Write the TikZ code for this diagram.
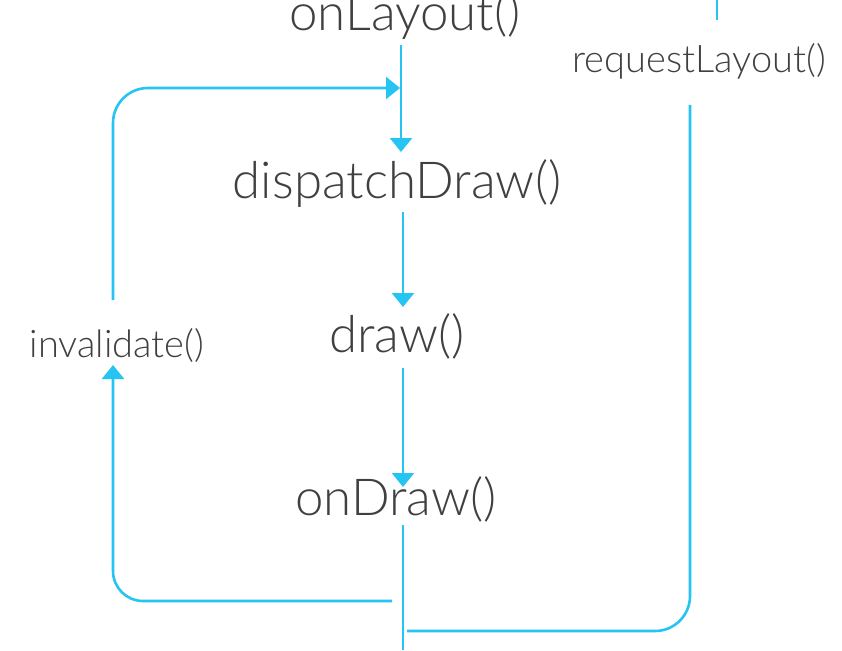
\documentclass[tikz,border=0pt]{standalone}
\usepackage{fontspec}
\setmainfont{Lato}[UprightFont=* Light]
\usetikzlibrary{arrows.meta}
\definecolor{lineblue}{RGB}{38,196,242}
\definecolor{txtgray}{RGB}{64,64,64}
\begin{document}
\begin{tikzpicture}[x=1pt,y=-1pt,
  conn/.style={draw=lineblue,line width=2.6pt},
  arr/.style={conn,-{Triangle[width=22pt,length=14pt]}},
  big/.style={font=\fontsize{51}{51}\selectfont,text=txtgray,inner sep=0pt,anchor=base},
  small/.style={font=\fontsize{38}{38}\selectfont,text=txtgray,inner sep=0pt,anchor=base}]
\useasboundingbox (0,0) rectangle (842,650);
\node[big] (onlayout) at (405,31) {onLayout()};
\node[small] (reqlayout) at (699,73) {requestLayout()};
\node[big] (dispatch) at (397,198) {dispatchDraw()};
\node[big] (drawn) at (397,352) {draw()};
\node[big] (ondraw) at (396,515) {onDraw()};
\node[small] (inval) at (117,357) {invalidate()};
% coordinates
\coordinate (l1s) at (401,45);   \coordinate (l1e) at (401,152);
\coordinate (l2s) at (403,212);  \coordinate (l2e) at (403,307);
\coordinate (l3s) at (403,368);  \coordinate (l3e) at (403,487);
\coordinate (l4s) at (403,525);  \coordinate (l4e) at (403,650);
\coordinate (lbs) at (392,601);  \coordinate (lbc) at (113,601); \coordinate (lbe) at (113,365);
\coordinate (lts) at (113,300);  \coordinate (ltc) at (113,88);  \coordinate (lte) at (400,88);
\coordinate (rbs) at (407,631);  \coordinate (rbc) at (690,631); \coordinate (rbe) at (690,105);
\coordinate (tps) at (717,0);    \coordinate (tpe) at (717,20);
\draw[arr] (l1s) -- (l1e);
\draw[arr] (l2s) -- (l2e);
\draw[arr] (l3s) -- (l3e);
\draw[conn] (l4s) -- (l4e);
\draw[arr,rounded corners=30pt] (lbs) -- (lbc) -- (lbe);
\draw[arr,rounded corners=35pt] (lts) -- (ltc) -- (lte);
\draw[conn,rounded corners=35pt] (rbs) -- (rbc) -- (rbe);
\draw[conn] (tps) -- (tpe);
\end{tikzpicture}
\end{document}
